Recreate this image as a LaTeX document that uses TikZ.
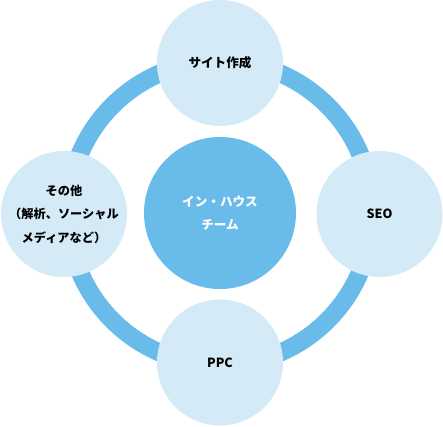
\documentclass[tikz,border=0pt]{standalone}
\usepackage{fontspec}
\setmainfont{Noto Sans CJK JP}
\definecolor{ringblue}{HTML}{69BBE9}
\definecolor{paleblue}{HTML}{D4EBF7}
\begin{document}
\begin{tikzpicture}[x=1pt,y=1pt,
  outer/.style={circle,fill=paleblue,minimum size=126pt,inner sep=0pt,align=center,
    font=\fontsize{12.6}{23.5}\selectfont\bfseries,text=black},
  hub/.style={circle,fill=ringblue,minimum size=152pt,inner sep=0pt,align=center,
    font=\fontsize{12.6}{23.5}\selectfont\bfseries,text=white}]
\useasboundingbox (0,0) rectangle (443,426);
\coordinate (o) at (220,213);
\draw[ringblue,line width=18pt] (o) circle[radius=152pt];
\node[hub] (hub) at (220,213) {イン・ハウス\\チーム};
\node[outer] (top) at (220,363) {サイト作成};
\node[outer] (right) at (379.5,212) {SEO};
\node[outer] (bottom) at (220,63.5) {PPC};
\node[outer,font=\fontsize{12.2}{23.5}\selectfont\bfseries] (left) at (64,212) {その他\\（解析、ソーシャル\\メディアなど）};
\end{tikzpicture}
\end{document}
